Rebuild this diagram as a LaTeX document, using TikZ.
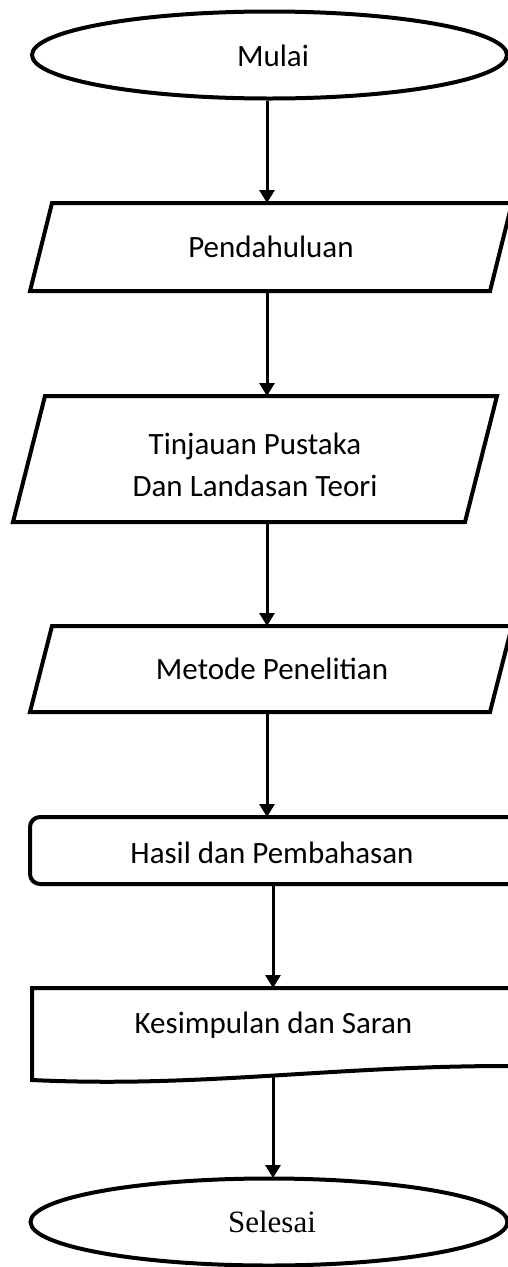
\documentclass[tikz,border=0pt]{standalone}
\usepackage{fontspec}
\setmainfont{Carlito}
\newfontfamily\timesfont{Liberation Serif}
\usetikzlibrary{shapes.geometric,arrows.meta}
\begin{document}
\begin{tikzpicture}[x=1pt,y=-1pt,
  shp/.style={line width=4pt, line join=miter},
  lbl/.style={inner sep=0pt, font=\fontsize{31}{42}\selectfont, align=center},
  arr/.style={line width=3pt, -{Triangle[width=15pt,length=13pt]}}]
\useasboundingbox (0,0) rectangle (507,1267);
\fill[white] (0,0) rectangle (507,1267);
% Mulai
\node[ellipse, draw, line width=4pt, minimum width=475pt, minimum height=87pt, inner sep=0pt] (mulai) at (269.5,55) {};
\node[lbl] (mulaiT) at (273,56) {Mulai};
% Pendahuluan
\draw[shp] (52,203) -- (512,203) -- (490,291) -- (30,291) -- cycle;
\node[lbl] (pend) at (271,247) {Pendahuluan};
\coordinate (pendN) at (267,203);
\coordinate (pendS) at (267,291);
% Tinjauan
\draw[shp] (45,396) -- (497,396) -- (465,522) -- (13,522) -- cycle;
\node[lbl] (tinj) at (255,465) {Tinjauan Pustaka\\Dan Landasan Teori};
\coordinate (tinjN) at (267,396);
\coordinate (tinjS) at (267,522);
% Metode
\draw[shp] (52,626) -- (512,626) -- (490,712) -- (30,712) -- cycle;
\node[lbl] (metode) at (272,669) {Metode Penelitian};
\coordinate (metN) at (267,626);
\coordinate (metS) at (267,712);
% Hasil
\draw[shp, rounded corners=10pt] (30,817) rectangle (520,884);
\node[lbl] (hasil) at (272,853) {Hasil dan Pembahasan};
\coordinate (hasN) at (267,817);
\coordinate (hasS) at (273,884);
% Kesimpulan
\draw[shp] (32,1080) -- (32,988) -- (515,988) -- (515,1066) -- (507,1066)
  .. controls (330,1066) and (200,1088) .. (32,1080) -- cycle;
\node[lbl] (kes) at (273.5,1025) {Kesimpulan dan Saran};
\coordinate (kesN) at (273,988);
\coordinate (kesS) at (273,1077);
% Selesai
\node[ellipse, draw, line width=4pt, minimum width=477pt, minimum height=87pt, inner sep=0pt] (selesai) at (269,1222) {};
\node[lbl, font=\timesfont\fontsize{31}{36}\selectfont] (selT) at (272,1222) {Selesai};
\coordinate (selN) at (273,1178);
% connectors
\draw[arr] (mulai.south -| pendN) -- (pendN);
\draw[arr] (pendS) -- (tinjN);
\draw[arr] (tinjS) -- (metN);
\draw[arr] (metS) -- (hasN);
\draw[arr] (hasS) -- (kesN);
\draw[arr] (kesS) -- (selN);
\end{tikzpicture}
\end{document}
